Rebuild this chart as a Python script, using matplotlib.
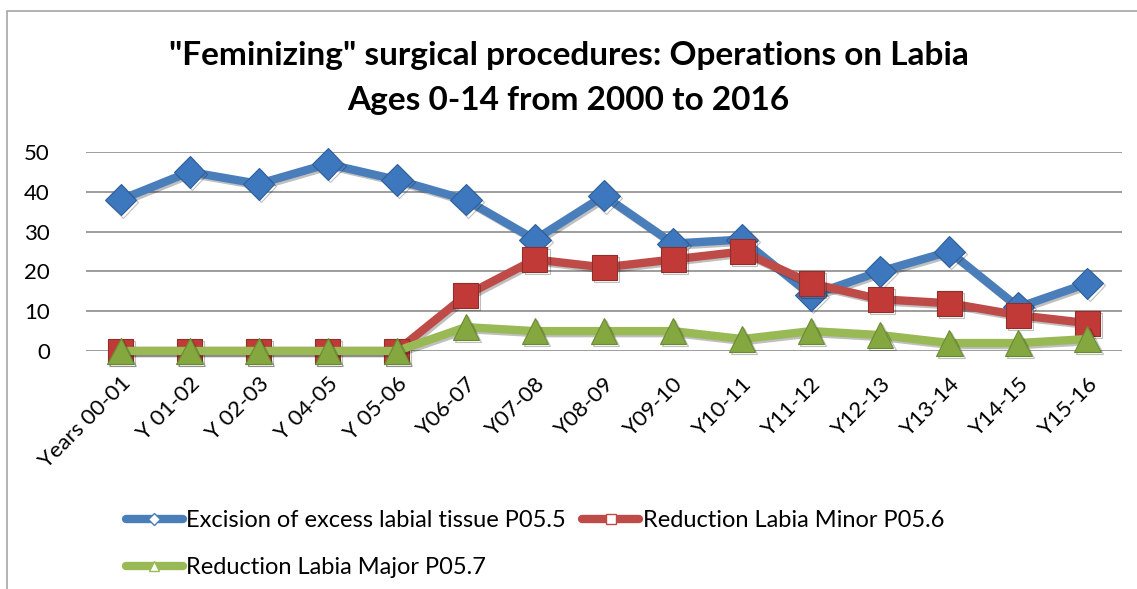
import matplotlib
matplotlib.use("Agg")
import matplotlib.pyplot as plt
from matplotlib.lines import Line2D
from matplotlib.patches import Rectangle
import matplotlib.patheffects as pe

plt.rcParams["font.family"] = ["Lato", "DejaVu Sans"]

years = ["Years 00-01", "Y 01-02", "Y 02-03", "Y 04-05", "Y 05-06", "Y06-07",
         "Y07-08", "Y08-09", "Y09-10", "Y10-11", "Y11-12", "Y12-13", "Y13-14",
         "Y14-15", "Y15-16"]
excision = [38, 45, 42, 47, 43, 38, 28, 39, 27, 28, 14, 20, 25, 11, 17]
labia_minor = [0, 0, 0, 0, 0, 14, 23, 21, 23, 25, 17, 13, 12, 9, 7]
labia_major = [0, 0, 0, 0, 0, 6, 5, 5, 5, 3, 5, 4, 2, 2, 3]

names = ["Excision of excess labial tissue P05.5",
         "Reduction Labia Minor P05.6",
         "Reduction Labia Major P05.7"]
title_lines = ['"Feminizing" surgical procedures: Operations on Labia',
               "Ages 0-14 from 2000 to 2016"]

W, H = 1137, 589
fig = plt.figure(figsize=(W / 100, H / 100), dpi=100)
ax = fig.add_axes([86 / W, 1 - 351 / H, (1122 - 86) / W, (351 - 152) / H])

# chart border (cropped at right/bottom in the original)
fig.patches.append(Rectangle((7 / W, -0.1), 1.2, 1 - 11 / H + 0.1,
                             transform=fig.transFigure, fill=False,
                             edgecolor="#a6a6a6", linewidth=1.2))

x = list(range(len(years)))
shadow = [pe.SimpleLineShadow(offset=(1.5, -1.5), alpha=0.25), pe.Normal()]

ax.plot(x, excision, color="#4a7ebb", linewidth=6, marker="D", markersize=16,
        markerfacecolor="#3d77bd", markeredgecolor="#2f5f9a", markeredgewidth=0.8,
        clip_on=False, zorder=3, path_effects=shadow)
ax.plot(x, labia_minor, color="#be4b48", linewidth=6, marker="s", markersize=18,
        markerfacecolor="#c23a37", markeredgecolor="#8e2f2c", markeredgewidth=0.8,
        clip_on=False, zorder=4, path_effects=shadow)
ax.plot(x, labia_major, color="#98b954", linewidth=6, marker="^", markersize=19,
        markerfacecolor="#84a83f", markeredgecolor="#6a8a32", markeredgewidth=0.8,
        clip_on=False, zorder=5, path_effects=shadow)

ax.set_xlim(-0.5, len(years) - 0.5)
ax.set_ylim(0, 50)
ax.set_yticks(range(0, 51, 10))
ax.set_xticks(x)
ax.set_xticklabels(years, rotation=45, ha="right", va="top",
                   rotation_mode="anchor", fontsize=16)
ax.tick_params(axis="y", length=0, labelsize=16, pad=26)
ax.tick_params(axis="x", length=0, pad=16)
ax.grid(axis="y", color="#8c8c8c", linewidth=1.2)
ax.set_axisbelow(True)
for s in ax.spines.values():
    s.set_visible(False)

fig.text(0.5, 1 - 65 / H, title_lines[0], ha="center", va="baseline",
         fontsize=24, fontweight="bold")
fig.text(0.5, 1 - 110 / H, title_lines[1], ha="center", va="baseline",
         fontsize=24, fontweight="bold")

handles = [
    Line2D([], [], color="#4a7ebb", linewidth=6, marker="D", markersize=6,
           markerfacecolor="white", markeredgecolor="#4a7ebb", solid_capstyle="round"),
    Line2D([], [], color="#98b954", linewidth=6, marker="^", markersize=7,
           markerfacecolor="white", markeredgecolor="#98b954", solid_capstyle="round"),
    Line2D([], [], color="#be4b48", linewidth=6, marker="s", markersize=7,
           markerfacecolor="white", markeredgecolor="#be4b48", solid_capstyle="round"),
]
fig.legend(handles, [names[0], names[2], names[1]], ncol=2, frameon=False,
           loc="upper left", bbox_to_anchor=(126 / W, 1 - 510 / H),
           fontsize=17, handlelength=2.4, handletextpad=0.15,
           columnspacing=0.7, labelspacing=1.1, borderaxespad=0, borderpad=0)

fig.savefig("out.png", dpi=100)
